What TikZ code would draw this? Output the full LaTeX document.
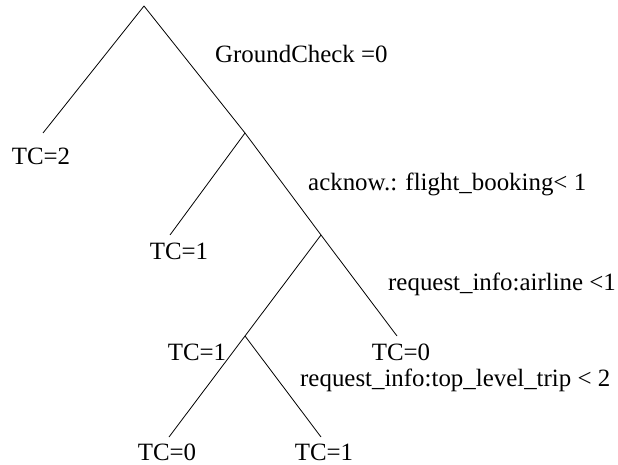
\documentclass[tikz,border=0pt]{standalone}
\usepackage{fontspec}
\setmainfont{Liberation Serif}
\begin{document}
\begin{tikzpicture}[x=1pt,y=-1pt,
  edge/.style={draw=black,line width=0.8pt},
  lbl/.style={inner sep=0pt,anchor=base,font=\fontsize{24.9}{30}\selectfont},
  lblw/.style={lbl,anchor=base west}]
\useasboundingbox (0,0) rectangle (618,465);
% tree points
\coordinate (root) at (144,6);
\coordinate (l1) at (43,133);
\coordinate (A) at (245,133);
\coordinate (l2) at (170,235);
\coordinate (B) at (321,235);
\coordinate (l3) at (397,336);
\coordinate (C) at (245,336);
\coordinate (l4) at (169,437);
\coordinate (l5) at (321,437);
% edges
\draw[edge] (root) -- (l1);
\draw[edge] (root) -- (A);
\draw[edge] (A) -- (l2);
\draw[edge] (A) -- (B);
\draw[edge] (B) -- (l3);
\draw[edge] (B) -- (C);
\draw[edge] (C) -- (l4);
\draw[edge] (C) -- (l5);
% labels
\node[lbl] (t1) at (41,165) {TC=2};
\node[lblw] (s1) at (215,63) {GroundCheck =0};
\node[lblw] (s2) at (308,190) {acknow.: flight\_booking< 1};
\node[lbl] (t2) at (179,259) {TC=1};
\node[lblw] (s3) at (388,290) {request\_info:airline <1};
\node[lbl] (t3) at (197,360) {TC=1};
\node[lbl] (t4) at (401,360) {TC=0};
\node[lblw] (s4) at (300,386) {request\_info:top\_level\_trip < 2};
\node[lbl] (t5) at (167,460) {TC=0};
\node[lbl] (t6) at (324,460) {TC=1};
\end{tikzpicture}
\end{document}
